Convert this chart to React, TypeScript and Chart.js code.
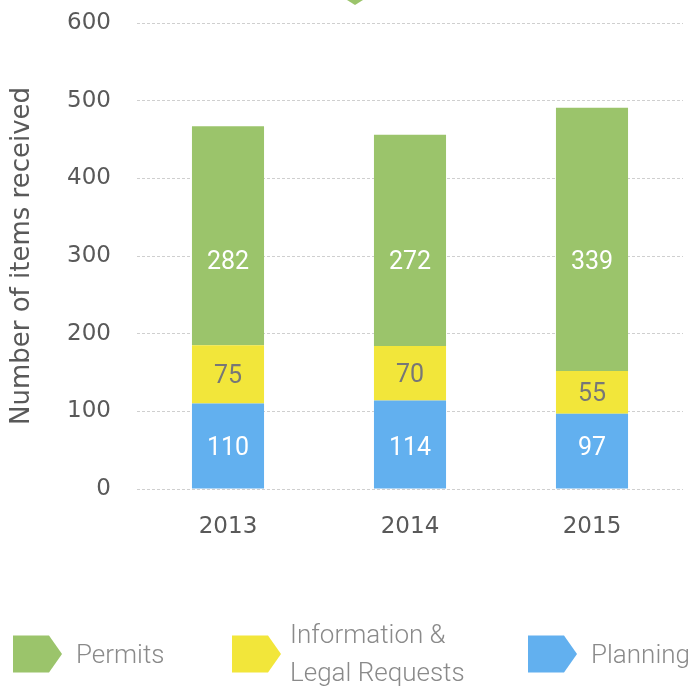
import React, { useEffect, useRef } from "react";
import { Chart, registerables } from "chart.js";

Chart.register(...registerables);

const categories = ["2013", "2014", "2015"];
const planning = [110, 114, 97];
const infoLegal = [75, 70, 55];
const permits = [282, 272, 339];
const yTicks = [0, 100, 200, 300, 400, 500, 600];

const GREEN = "#9bc46b";
const YELLOW = "#f2e63a";
const BLUE = "#62b0ef";

export default function App() {
  const ref = useRef<HTMLCanvasElement | null>(null);

  useEffect(() => {
    if (!ref.current) return;

    const labelPlugin = {
      id: "segLabels",
      afterDatasetsDraw(chart: any) {
        const ctx = chart.ctx;
        const yScale = chart.scales.y;
        ctx.save();
        ctx.font = "400 25px Roboto";
        ctx.textAlign = "center";
        ctx.textBaseline = "alphabetic";
        chart.data.datasets.forEach((ds: any, di: number) => {
          const meta = chart.getDatasetMeta(di);
          meta.data.forEach((bar: any, i: number) => {
            const p = bar.getProps(["x", "y", "base"], true);
            let cy = (p.y + p.base) / 2;
            if (ds.labelAt != null) cy = yScale.getPixelForValue(ds.labelAt);
            ctx.fillStyle = ds.labelColor;
            ctx.fillText(String(ds.data[i]), p.x, cy + 9);
          });
        });
        ctx.restore();
      },
    };

    const legendPlugin = {
      id: "arrowLegend",
      afterDraw(chart: any) {
        const ctx = chart.ctx;
        ctx.save();
        ctx.fillStyle = GREEN;
        ctx.beginPath();
        ctx.moveTo(347, 0);
        ctx.lineTo(363, 0);
        ctx.lineTo(355, 5);
        ctx.closePath();
        ctx.fill();

        const items = [
          { color: GREEN, lines: ["Permits"], x: 13 },
          { color: YELLOW, lines: ["Information &", "Legal Requests"], x: 232 },
          { color: BLUE, lines: ["Planning"], x: 528 },
        ];
        const cy = 654;
        const h = 37;
        items.forEach((it) => {
          ctx.fillStyle = it.color;
          ctx.beginPath();
          ctx.moveTo(it.x, cy - h / 2);
          ctx.lineTo(it.x + 36, cy - h / 2);
          ctx.lineTo(it.x + 49, cy);
          ctx.lineTo(it.x + 36, cy + h / 2);
          ctx.lineTo(it.x, cy + h / 2);
          ctx.closePath();
          ctx.fill();
          ctx.fillStyle = "#8a8a8a";
          ctx.font = "300 26px Roboto";
          ctx.textAlign = "left";
          ctx.textBaseline = "alphabetic";
          if (it.lines.length === 1) {
            ctx.fillText(it.lines[0], it.x + 63, 663);
          } else {
            ctx.fillText(it.lines[0], it.x + 58, 643);
            ctx.fillText(it.lines[1], it.x + 58, 681);
          }
        });
        ctx.restore();
      },
    };

    const chart = new Chart(ref.current, {
      type: "bar",
      data: {
        labels: categories,
        datasets: [
          { label: "Planning", data: planning, backgroundColor: BLUE, labelColor: "#ffffff", labelAt: 55 } as any,
          { label: "Information & Legal Requests", data: infoLegal, backgroundColor: YELLOW, labelColor: "#777777" } as any,
          { label: "Permits", data: permits, backgroundColor: GREEN, labelColor: "#ffffff", labelAt: 295 } as any,
        ],
      },
      options: {
        animation: false,
        responsive: true,
        maintainAspectRatio: false,
        layout: { padding: { top: 23, right: 8, left: 0, bottom: 0 } },
        datasets: { bar: { categoryPercentage: 1, barPercentage: 0.396 } },
        plugins: { legend: { display: false }, tooltip: { enabled: false } },
        scales: {
          x: {
            stacked: true,
            grid: { display: false, drawTicks: false },
            border: { display: false },
            ticks: { color: "#595959", font: { family: "DejaVu Sans", size: 23 }, padding: 24 },
            afterFit(scale: any) {
              scale.height = 197;
              scale.paddingLeft = 0;
              scale.paddingRight = 0;
            },
          },
          y: {
            stacked: true,
            min: 0,
            max: 600,
            afterBuildTicks(scale: any) {
              scale.ticks = yTicks.map((v) => ({ value: v }));
            },
            grid: { color: "#cfcfcf", lineWidth: 1, drawTicks: false },
            border: { display: false, dash: [3, 2] },
            ticks: { color: "#595959", font: { family: "DejaVu Sans", size: 23 }, padding: 26 },
            title: {
              display: true,
              text: "Number of items received",
              color: "#595959",
              font: { family: "DejaVu Sans", size: 26 },
              padding: { top: 7, bottom: 0 },
            },
            afterFit(scale: any) {
              scale.width = 137;
              scale.paddingTop = 0;
              scale.paddingBottom = 0;
            },
          },
        },
      },
      plugins: [labelPlugin, legendPlugin],
    });
    return () => chart.destroy();
  }, []);

  return (
    <div style={{ position: "fixed", left: 0, top: 0, width: 691, height: 686, background: "#fff" }}>
      <canvas ref={ref} />
    </div>
  );
}
